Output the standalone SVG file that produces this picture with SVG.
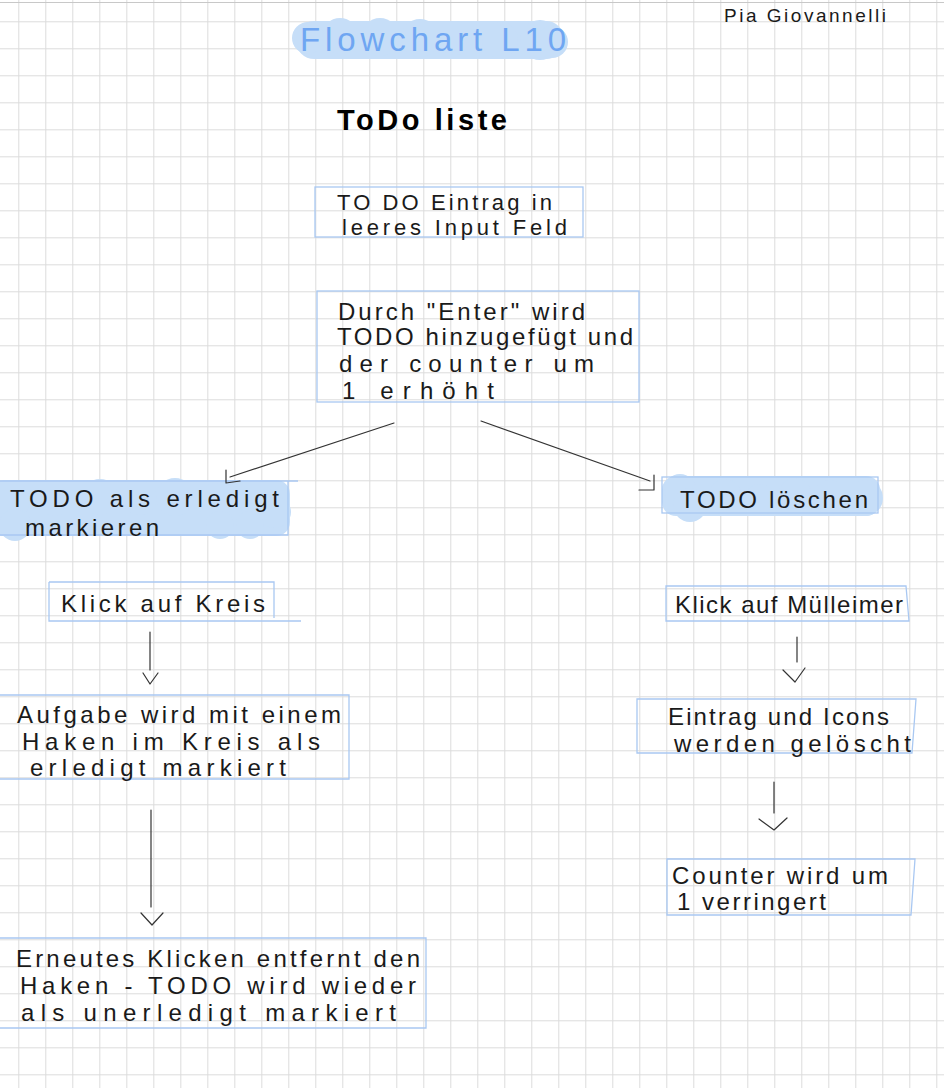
<svg xmlns="http://www.w3.org/2000/svg" width="944" height="1088" viewBox="0 0 944 1088">
<defs>
<pattern id="grid" x="18.3" y="21.3" width="27" height="27" patternUnits="userSpaceOnUse">
<path d="M0 0.5H27M0.5 0V27" fill="none" stroke="#dcdcdc" stroke-width="1"/>
</pattern>
<style>
.t{font-family:"Liberation Sans",Arial,sans-serif;font-size:24px;fill:#1a1a1a}
.box{fill:none;stroke:#a9c8f2;stroke-width:1.3}
.hl{fill:#c6def8}
.con{fill:none;stroke:#333;stroke-width:1.2;stroke-linecap:round;stroke-linejoin:round}
</style>
</defs>
<rect width="944" height="1088" fill="#fff"/>
<rect width="944" height="1088" fill="url(#grid)"/>
<line x1="0" y1="2.5" x2="944" y2="2.5" stroke="#c8c8c8" stroke-width="1"/>

<g id="title">
<g class="hl">
<rect x="296" y="21" width="268" height="38" rx="18"/>
<circle cx="308" cy="38" r="16"/><circle cx="340" cy="36" r="18"/><circle cx="380" cy="37" r="19"/>
<circle cx="420" cy="38" r="19"/><circle cx="455" cy="38" r="17"/><circle cx="500" cy="40" r="18"/>
<circle cx="540" cy="40" r="20"/><circle cx="552" cy="42" r="16"/>
</g>
<text x="300" y="51" textLength="266" lengthAdjust="spacing" style="font-family:'Liberation Sans',Arial,sans-serif;font-size:33px;fill:#6fa6f2">Flowchart L10</text>
</g>
<g id="author">
<text class="t" x="724" y="22" textLength="162" lengthAdjust="spacing" style="font-size:19px">Pia Giovannelli</text>
</g>
<g id="heading">
<text x="337" y="130" textLength="170" lengthAdjust="spacing" style="font-family:'Liberation Sans',Arial,sans-serif;font-size:29px;font-weight:bold;fill:#000">ToDo liste</text>
</g>

<g id="n1">
<rect class="box" x="315" y="187" width="268" height="50"/>
<text class="t" x="337" y="210" textLength="215" lengthAdjust="spacing" style="font-size:22px">TO DO Eintrag in</text>
<text class="t" x="342" y="235" textLength="225" lengthAdjust="spacing" style="font-size:22px">leeres Input Feld</text>
</g>

<g id="n2">
<rect class="box" x="317" y="291" width="322" height="111"/>
<text class="t" x="338" y="320" textLength="247" lengthAdjust="spacing">Durch "Enter" wird</text>
<text class="t" x="337" y="345" textLength="296" lengthAdjust="spacing">TODO hinzugefügt und</text>
<text class="t" x="339" y="372" textLength="255" lengthAdjust="spacing">der counter um</text>
<text class="t" x="342" y="399" textLength="152" lengthAdjust="spacing">1 erhöht</text>
</g>

<g id="n3">
<g class="hl">
<rect x="-10" y="480" width="300" height="56" rx="14"/>
<circle cx="10" cy="500" r="20"/><circle cx="15" cy="525" r="16"/><circle cx="55" cy="498" r="18"/>
<circle cx="100" cy="497" r="18"/><circle cx="140" cy="498" r="17"/><circle cx="175" cy="497" r="19"/>
<circle cx="215" cy="501" r="18"/><circle cx="255" cy="498" r="18"/><circle cx="275" cy="512" r="16"/>
<circle cx="220" cy="525" r="14"/><circle cx="250" cy="525" r="14"/>
</g>
<path class="box" d="M0 481H298M288 481V535H0"/>
<text class="t" x="10" y="507" textLength="269" lengthAdjust="spacing">TODO als erledigt</text>
<text class="t" x="25" y="536" textLength="134" lengthAdjust="spacing">markieren</text>
</g>

<g id="n4">
<g class="hl">
<rect x="662" y="476" width="218" height="40" rx="14"/>
<circle cx="680" cy="490" r="16"/><circle cx="690" cy="505" r="17"/><circle cx="725" cy="495" r="16"/>
<circle cx="760" cy="500" r="16"/><circle cx="795" cy="494" r="16"/><circle cx="830" cy="497" r="17"/>
<circle cx="865" cy="498" r="18"/>
</g>
<rect class="box" x="662" y="477" width="216" height="36"/>
<text class="t" x="680" y="508" textLength="188" lengthAdjust="spacing">TODO löschen</text>
</g>

<g id="n5">
<path class="box" d="M49 582H274V618M49 582V621H301"/>
<text class="t" x="61" y="612" textLength="204" lengthAdjust="spacing">Klick auf Kreis</text>
</g>

<g id="n6">
<path class="box" d="M0 695H349V779H0"/>
<text class="t" x="17" y="723" textLength="324" lengthAdjust="spacing">Aufgabe wird mit einem</text>
<text class="t" x="22" y="750" textLength="298" lengthAdjust="spacing">Haken im Kreis als</text>
<text class="t" x="30" y="776" textLength="256" lengthAdjust="spacing">erledigt markiert</text>
</g>

<g id="n7">
<path class="box" d="M0 938H426V1028H0"/>
<text class="t" x="16" y="967" textLength="404" lengthAdjust="spacing">Erneutes Klicken entfernt den</text>
<text class="t" x="20" y="994" textLength="396" lengthAdjust="spacing">Haken - TODO wird wieder</text>
<text class="t" x="21" y="1021" textLength="375" lengthAdjust="spacing">als unerledigt markiert</text>
</g>

<g id="n8">
<path class="box" d="M666 586H906L909 621H666Z"/>
<text class="t" x="675" y="613" textLength="228" lengthAdjust="spacing">Klick auf Mülleimer</text>
</g>

<g id="n9">
<path class="box" d="M637 699H916L912 753H637Z"/>
<text class="t" x="668" y="725" textLength="221" lengthAdjust="spacing">Eintrag und Icons</text>
<text class="t" x="674" y="752" textLength="237" lengthAdjust="spacing">werden gelöscht</text>
</g>

<g id="n10">
<path class="box" d="M667 859H915L911 915H667Z"/>
<text class="t" x="672" y="884" textLength="216" lengthAdjust="spacing">Counter wird um</text>
<text class="t" x="677" y="910" textLength="149" lengthAdjust="spacing">1 verringert</text>
</g>

<g id="connectors">
<path class="con" d="M394 423L230 477"/>
<path class="con" d="M226 470V483L240 481"/>
<path class="con" d="M481 421L650 481"/>
<path class="con" d="M654 475V490H639"/>
<path class="con" d="M150 632V670"/>
<path class="con" d="M143 673L150 684L158 673"/>
<path class="con" d="M151 810V907"/>
<path class="con" d="M141 913L152 925L163 913"/>
<path class="con" d="M797 637V662"/>
<path class="con" d="M783 670L795 682L805 668"/>
<path class="con" d="M774 782V813"/>
<path class="con" d="M759 819L774 830L787 818"/>
</g>
</svg>
